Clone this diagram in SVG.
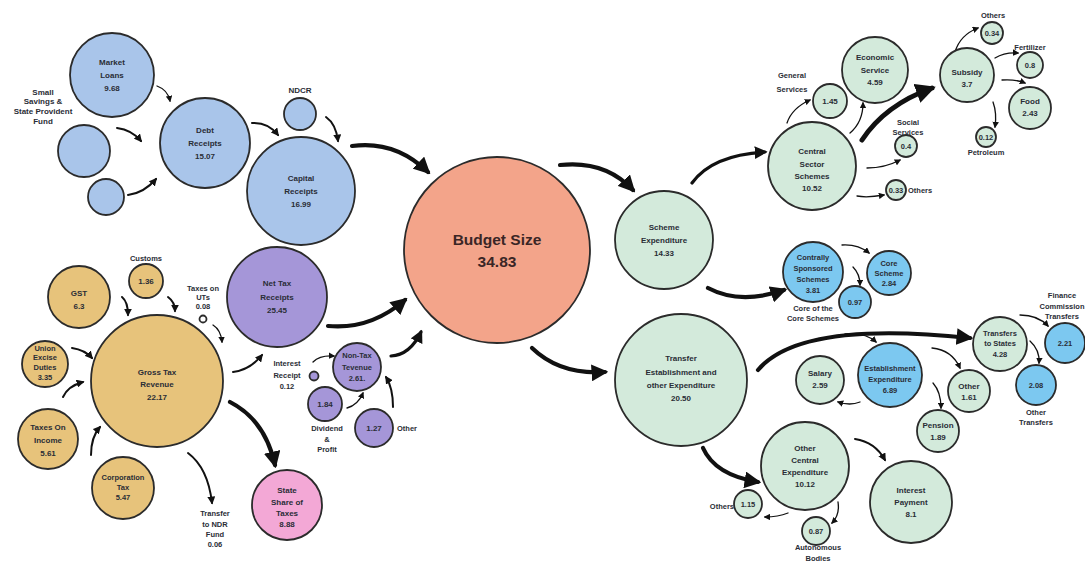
<svg xmlns="http://www.w3.org/2000/svg" width="1085" height="563" viewBox="0 0 1085 563">
<style>
.n circle{stroke:#2b2b2b;stroke-width:1.8}
.blue{fill:#a9c5ea}.tan{fill:#e7c37b}.pur{fill:#a596d8}.pink{fill:#f3a8d6}.sal{fill:#f3a48a}.grn{fill:#d3eadb}.cy{fill:#7cc8f0}.wh{fill:#fff}
text{font-family:"Liberation Sans",Arial,sans-serif;font-weight:bold;font-size:8px;fill:#2a2d36;text-anchor:middle}
.s{font-size:7.5px}
.big{font-size:15.5px;fill:#3a2626}
.l{text-anchor:start}.r{text-anchor:end}
#connectors path{fill:none;stroke:#111;stroke-linecap:round}
.t{stroke-width:1.3;marker-end:url(#ahs)}
.m{stroke-width:2;marker-end:url(#ah)}
.k{stroke-width:3.2;marker-end:url(#ah)}
.x{stroke-width:4.2;marker-end:url(#ah)}
</style>
<defs>
<marker id="ah" viewBox="0 0 10 10" refX="8" refY="5" markerWidth="4" markerHeight="4" orient="auto" markerUnits="strokeWidth"><path d="M0,0 L10,5 L0,10 z" fill="#111"/></marker>
<marker id="ahs" viewBox="0 0 10 10" refX="8" refY="5" markerWidth="5" markerHeight="5" orient="auto" markerUnits="strokeWidth"><path d="M0,0 L10,5 L0,10 z" fill="#111"/></marker>
</defs>
<rect width="1085" height="563" fill="#fff"/>

<g id="connectors">
<path class="t" d="M157,86 Q168,90 170,101"/>
<path class="m" d="M117,128 Q132,130 141,141"/>
<path class="m" d="M128,195 Q144,193 156,179"/>
<path class="m" d="M252,123 Q268,122 278,135"/>
<path class="m" d="M326,117 Q336,124 338,141"/>
<path class="x" d="M352,146 Q395,140 428,172"/>
<path class="m" d="M122,297 Q128,302 128,315"/>
<path class="m" d="M168,297 Q175,302 175,311"/>
<path class="m" d="M72,348 Q85,350 92,358"/>
<path class="m" d="M63,397 Q68,386 83,382"/>
<path class="m" d="M91,455 Q91,437 100,427"/>
<path class="t" d="M213,325 Q221,330 222,342"/>
<path class="m" d="M233,372 Q250,370 262,355"/>
<path class="x" d="M328,326 Q370,330 405,300"/>
<path class="t" d="M313,362 Q320,355 334,356"/>
<path class="t" d="M347,408 Q358,405 363,393"/>
<path class="m" d="M393,407 Q393,388 386,377"/>
<path class="k" d="M391,356 Q410,355 421,332"/>
<path class="x" d="M230,402 Q265,420 275,465"/>
<path class="m" d="M188,453 Q208,468 212,503"/>
<path class="x" d="M560,165 Q605,160 633,190"/>
<path class="k" d="M692,183 Q712,155 765,152"/>
<path class="t" d="M787,123 Q792,108 810,100"/>
<path class="t" d="M850,133 Q863,122 863,103"/>
<path class="x" d="M862,140 Q885,105 932,88" style="stroke-width:5"/>
<path class="t" d="M955,52 Q960,35 978,28"/>
<path class="t" d="M995,58 Q1005,52 1018,53"/>
<path class="t" d="M1002,80 Q1015,79 1025,83"/>
<path class="t" d="M993,102 Q997,113 995,127"/>
<path class="t" d="M867,168 Q885,168 900,160"/>
<path class="t" d="M857,196 Q867,198 884,195"/>
<path class="x" d="M708,288 Q740,305 784,290"/>
<path class="t" d="M842,245 Q858,244 869,253"/>
<path class="t" d="M853,267 Q860,274 860,285"/>
<path class="x" d="M532,348 Q560,375 605,372"/>
<path class="x" d="M758,370 Q800,320 970,338"/>
<path class="t" d="M845,334 Q865,332 876,342"/>
<path class="t" d="M1020,315 Q1038,315 1048,326"/>
<path class="t" d="M1030,341 Q1040,350 1039,363"/>
<path class="t" d="M860,402 Q850,406 838,402"/>
<path class="t" d="M932,348 Q952,350 960,368"/>
<path class="t" d="M933,383 Q941,392 941,408"/>
<path class="x" d="M703,448 Q715,475 758,482"/>
<path class="m" d="M855,439 Q875,442 885,460"/>
<path class="t" d="M788,513 Q778,517 765,517"/>
<path class="t" d="M838,502 Q840,515 832,523"/>
</g>

<g id="market-loans" class="n"><circle class="blue" cx="112" cy="75" r="42"/><text x="112" y="65">Market</text><text x="112" y="78">Loans</text><text x="112" y="91">9.68</text></g>
<g id="small-savings" class="n"><circle class="blue" cx="84" cy="151" r="26"/><text x="43" y="95">Small</text><text x="43" y="104">Savings &amp;</text><text x="43" y="114">State Provident</text><text x="43" y="124">Fund</text></g>
<g id="other-debt" class="n"><circle class="blue" cx="106" cy="197" r="18"/></g>
<g id="debt-receipts" class="n"><circle class="blue" cx="205" cy="143" r="45"/><text x="205" y="133">Debt</text><text x="205" y="146">Receipts</text><text x="205" y="159">15.07</text></g>
<g id="ndcr" class="n"><circle class="blue" cx="300" cy="114" r="16"/><text x="300" y="93">NDCR</text></g>
<g id="capital-receipts" class="n"><circle class="blue" cx="301" cy="191" r="54"/><text x="301" y="181">Capital</text><text x="301" y="194">Receipts</text><text x="301" y="207">16.99</text></g>
<g id="budget-size" class="n"><circle class="sal" cx="497" cy="250" r="93"/><text class="big" x="497" y="245">Budget Size</text><text class="big" x="497" y="267">34.83</text></g>
<g id="net-tax" class="n"><circle class="pur" cx="277" cy="297" r="50"/><text x="277" y="286">Net Tax</text><text x="277" y="300">Receipts</text><text x="277" y="313">25.45</text></g>
<g id="taxes-uts" class="n"><circle class="wh" cx="203" cy="319" r="3.5"/><text class="s" x="203" y="291">Taxes on</text><text class="s" x="203" y="300">UTs</text><text class="s" x="203" y="309">0.08</text></g>
<g id="gross-tax" class="n"><circle class="tan" cx="157" cy="381" r="66"/><text x="157" y="375">Gross Tax</text><text x="157" y="387">Revenue</text><text x="157" y="400">22.17</text></g>
<g id="gst" class="n"><circle class="tan" cx="79" cy="297" r="31"/><text x="79" y="296">GST</text><text x="79" y="309">6.3</text></g>
<g id="customs" class="n"><circle class="tan" cx="146" cy="281" r="17"/><text x="146" y="284">1.36</text><text class="s" x="146" y="261">Customs</text></g>
<g id="union-excise" class="n"><circle class="tan" cx="45" cy="364" r="23"/><text class="s" x="45" y="351">Union</text><text class="s" x="45" y="360">Excise</text><text class="s" x="45" y="370">Duties</text><text class="s" x="45" y="380">3.35</text></g>
<g id="taxes-income" class="n"><circle class="tan" cx="48" cy="439" r="30"/><text x="48" y="430">Taxes On</text><text x="48" y="443">Income</text><text x="48" y="456">5.61</text></g>
<g id="corporation-tax" class="n"><circle class="tan" cx="123" cy="488" r="31"/><text class="s" x="123" y="480">Corporation</text><text class="s" x="123" y="490">Tax</text><text class="s" x="123" y="500">5.47</text></g>
<g id="state-share" class="n"><circle class="pink" cx="287" cy="505" r="35"/><text x="287" y="493">State</text><text x="287" y="505">Share of</text><text x="287" y="516">Taxes</text><text x="287" y="527">8.88</text></g>
<g id="transfer-ndr" class="n"><text class="s" x="215" y="516">Transfer</text><text class="s" x="215" y="527">to NDR</text><text class="s" x="215" y="537">Fund</text><text class="s" x="215" y="547">0.06</text></g>
<g id="non-tax" class="n"><circle class="pur" cx="357" cy="367" r="24"/><text class="s" x="357" y="358">Non-Tax</text><text class="s" x="357" y="370">Tevenue</text><text class="s" x="357" y="381">2.61.</text></g>
<g id="interest-receipt" class="n"><circle class="pur" cx="314" cy="376" r="4.5"/><text class="s" x="287" y="366">Interest</text><text class="s" x="287" y="378">Receipt</text><text class="s" x="287" y="389">0.12</text></g>
<g id="dividend" class="n"><circle class="pur" cx="325" cy="404" r="17"/><text x="325" y="407">1.84</text><text class="s" x="327" y="431">Dividend</text><text class="s" x="327" y="442">&amp;</text><text class="s" x="327" y="452">Profit</text></g>
<g id="other-nontax" class="n"><circle class="pur" cx="374" cy="428" r="19"/><text x="374" y="431">1.27</text><text class="s l" x="397" y="431">Other</text></g>

<g id="scheme-exp" class="n"><circle class="grn" cx="664" cy="240" r="49"/><text x="664" y="230">Scheme</text><text x="664" y="243">Expenditure</text><text x="664" y="256">14.33</text></g>
<g id="central-sector" class="n"><circle class="grn" cx="812" cy="166" r="44"/><text x="812" y="154">Central</text><text x="812" y="167">Sector</text><text x="812" y="179">Schemes</text><text x="812" y="191">10.52</text></g>
<g id="general-services" class="n"><circle class="grn" cx="830" cy="101" r="17"/><text x="830" y="104">1.45</text><text class="s" x="792" y="78">General</text><text class="s" x="792" y="92">Services</text></g>
<g id="economic-service" class="n"><circle class="grn" cx="875" cy="70" r="33"/><text x="875" y="60">Economic</text><text x="875" y="73">Service</text><text x="875" y="85">4.59</text></g>
<g id="subsidy" class="n"><circle class="grn" cx="967" cy="75" r="27"/><text x="967" y="75">Subsidy</text><text x="967" y="87">3.7</text></g>
<g id="sub-others" class="n"><circle class="grn" cx="992" cy="33" r="11"/><text class="s" x="992" y="36">0.34</text><text class="s" x="993" y="18">Others</text></g>
<g id="fertilizer" class="n"><circle class="grn" cx="1030" cy="65" r="13"/><text class="s" x="1030" y="68">0.8</text><text class="s" x="1030" y="50">Fertilizer</text></g>
<g id="food" class="n"><circle class="grn" cx="1030" cy="108" r="21"/><text x="1030" y="104">Food</text><text x="1030" y="116">2.43</text></g>
<g id="petroleum" class="n"><circle class="grn" cx="986" cy="137" r="10"/><text class="s" x="986" y="140">0.12</text><text class="s" x="986" y="155">Petroleum</text></g>
<g id="social-services" class="n"><circle class="grn" cx="906" cy="146" r="11"/><text class="s" x="906" y="149">0.4</text><text class="s" x="908" y="125">Social</text><text class="s" x="908" y="135">Services</text></g>
<g id="css-others" class="n"><circle class="grn" cx="896" cy="190" r="10"/><text class="s" x="896" y="193">0.33</text><text class="s l" x="908" y="193">Others</text></g>
<g id="contrally" class="n"><circle class="cy" cx="813" cy="272" r="30"/><text class="s" x="813" y="260">Contrally</text><text class="s" x="813" y="271">Sponsored</text><text class="s" x="813" y="282">Schemes</text><text class="s" x="813" y="293">3.81</text></g>
<g id="core-scheme" class="n"><circle class="cy" cx="889" cy="273" r="22"/><text class="s" x="889" y="266">Core</text><text class="s" x="889" y="276">Scheme</text><text class="s" x="889" y="286">2.84</text></g>
<g id="core-of-core" class="n"><circle class="cy" cx="855" cy="302" r="16"/><text class="s" x="855" y="305">0.97</text><text class="s" x="813" y="311">Core of the</text><text class="s" x="813" y="321">Core Schemes</text></g>
<g id="transfer-est" class="n"><circle class="grn" cx="681" cy="380" r="66"/><text x="681" y="361">Transfer</text><text x="681" y="375">Establishment and</text><text x="681" y="388">other Expenditure</text><text x="681" y="401">20.50</text></g>
<g id="transfers-states" class="n"><circle class="grn" cx="1000" cy="344" r="27"/><text class="s" x="1000" y="336">Transfers</text><text class="s" x="1000" y="346">to States</text><text class="s" x="1000" y="357">4.28</text></g>
<g id="finance-commission" class="n"><circle class="cy" cx="1065" cy="343" r="20"/><text class="s" x="1065" y="346">2.21</text><text class="s" x="1062" y="298">Finance</text><text class="s" x="1062" y="309">Commission</text><text class="s" x="1062" y="319">Transfers</text></g>
<g id="other-transfers" class="n"><circle class="cy" cx="1036" cy="385" r="20"/><text class="s" x="1036" y="388">2.08</text><text class="s" x="1036" y="415">Other</text><text class="s" x="1036" y="425">Transfers</text></g>
<g id="establishment" class="n"><circle class="cy" cx="890" cy="375" r="32"/><text class="s" x="890" y="371">Establishment</text><text class="s" x="890" y="382">Expenditure</text><text class="s" x="890" y="393">6.89</text></g>
<g id="salary" class="n"><circle class="grn" cx="820" cy="380" r="24"/><text x="820" y="376">Salary</text><text x="820" y="388">2.59</text></g>
<g id="other-est" class="n"><circle class="grn" cx="969" cy="391" r="21"/><text x="969" y="389">Other</text><text x="969" y="400">1.61</text></g>
<g id="pension" class="n"><circle class="grn" cx="938" cy="431" r="21"/><text x="938" y="428">Pension</text><text x="938" y="440">1.89</text></g>
<g id="other-central" class="n"><circle class="grn" cx="805" cy="466" r="44"/><text x="805" y="451">Other</text><text x="805" y="463">Central</text><text x="805" y="475">Expenditure</text><text x="805" y="487">10.12</text></g>
<g id="interest-payment" class="n"><circle class="grn" cx="911" cy="502" r="41"/><text x="911" y="493">Interest</text><text x="911" y="505">Payment</text><text x="911" y="517">8.1</text></g>
<g id="oce-others" class="n"><circle class="grn" cx="748" cy="504" r="14"/><text class="s" x="748" y="507">1.15</text><text class="s r" x="734" y="509">Others</text></g>
<g id="autonomous" class="n"><circle class="grn" cx="816" cy="531" r="14"/><text class="s" x="816" y="534">0.87</text><text class="s" x="818" y="550">Autonomous</text><text class="s" x="818" y="561">Bodies</text></g>
</svg>
